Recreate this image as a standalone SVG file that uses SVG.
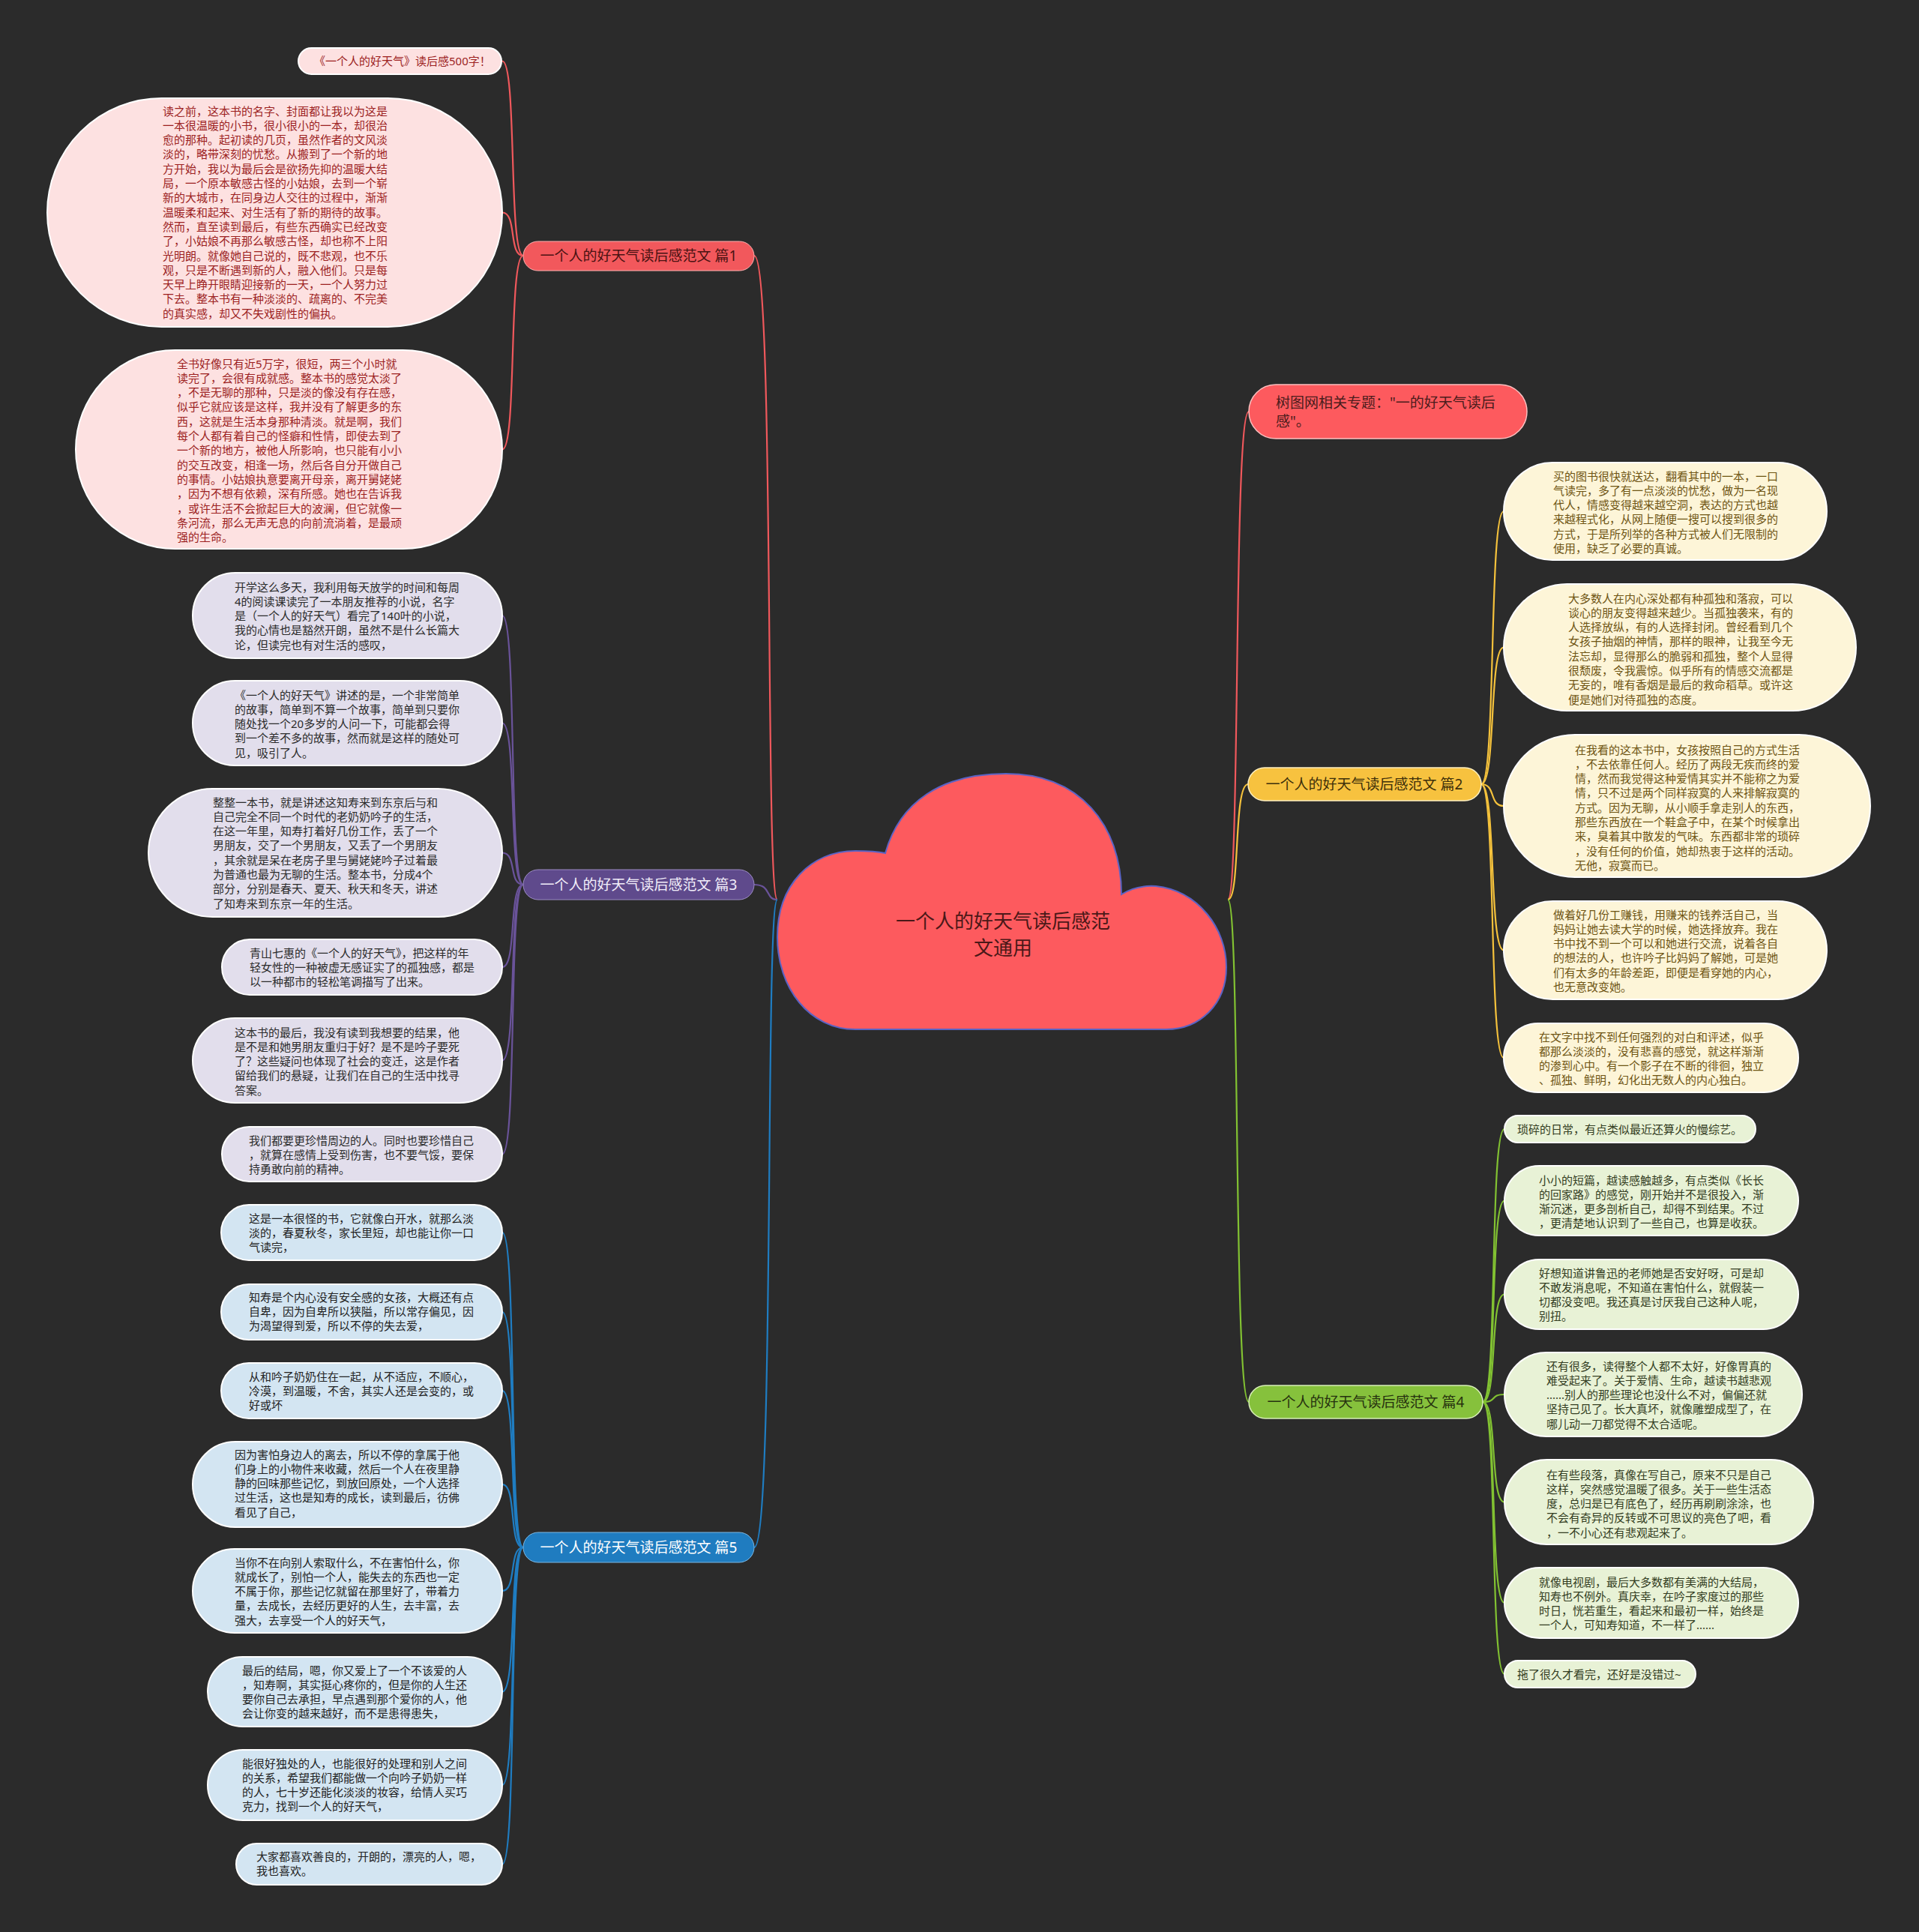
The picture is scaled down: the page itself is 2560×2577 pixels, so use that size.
<svg xmlns="http://www.w3.org/2000/svg" width="2560" height="2577" viewBox="0 0 2560 2577">
<style>
text{font-family:'Noto Sans','Noto Sans CJK SC',sans-serif}
.t{font-size:15px}
.b{font-size:19px}
.c1{stroke:#f0585c}.c3{stroke:#6a539a}.c5{stroke:#1f7dc2}.c2{stroke:#f5c23c}.c4{stroke:#82c232}
.con path{fill:none;stroke-width:2.2}
.l1{fill:#fde1e1;stroke:#fff;stroke-width:2}
.l3{fill:#e2deec;stroke:#fff;stroke-width:2}
.l5{fill:#d3e5f2;stroke:#fff;stroke-width:2}
.l2{fill:#fdf5d8;stroke:#fff;stroke-width:2}
.l4{fill:#e8f2d6;stroke:#fff;stroke-width:2}
.x1{fill:#9c1f1f}.x3{fill:#2b2b2b}.x5{fill:#222}.x2{fill:#6e5412}.x4{fill:#333d22}
</style>
<rect width="2560" height="2577" fill="#2b2b2b"/>
<g id="connectors" class="con">
<path class="c1" d="M1037,1200 C1020,1200 1034,341 1006,341"/>
<path class="c3" d="M1037,1200 C1020,1200 1030,1180 1006,1180"/>
<path class="c5" d="M1037,1200 C1020,1200 1034,2064 1006,2064"/>
<path class="c1" d="M1638,1200 C1655,1200 1645,549 1666,549"/>
<path class="c2" d="M1638,1200 C1655,1200 1645,1046 1665,1046"/>
<path class="c4" d="M1638,1200 C1655,1200 1645,1870 1666,1870"/>
<path class="c1" d="M698,341 C678,341 690,81.5 670,81.5"/>
<path class="c1" d="M698,341 C678,341 690,283.5 670,283.5"/>
<path class="c1" d="M698,341 C678,341 690,599.5 670,599.5"/>
<path class="c3" d="M698,1180 C678,1180 690,821 670,821"/>
<path class="c3" d="M698,1180 C678,1180 690,964.5 670,964.5"/>
<path class="c3" d="M698,1180 C678,1180 690,1137.5 670,1137.5"/>
<path class="c3" d="M698,1180 C678,1180 690,1290 670,1290"/>
<path class="c3" d="M698,1180 C678,1180 690,1414.5 670,1414.5"/>
<path class="c3" d="M698,1180 C678,1180 690,1539.5 670,1539.5"/>
<path class="c5" d="M698,2064 C678,2064 690,1644 670,1644"/>
<path class="c5" d="M698,2064 C678,2064 690,1750 670,1750"/>
<path class="c5" d="M698,2064 C678,2064 690,1855 670,1855"/>
<path class="c5" d="M698,2064 C678,2064 690,1980 670,1980"/>
<path class="c5" d="M698,2064 C678,2064 690,2122 670,2122"/>
<path class="c5" d="M698,2064 C678,2064 690,2256.5 670,2256.5"/>
<path class="c5" d="M698,2064 C678,2064 690,2381 670,2381"/>
<path class="c5" d="M698,2064 C678,2064 690,2486.5 670,2486.5"/>
<path class="c2" d="M1976,1046 C1996,1046 1986,682 2006,682"/>
<path class="c2" d="M1976,1046 C1996,1046 1986,863.5 2006,863.5"/>
<path class="c2" d="M1976,1046 C1996,1046 1986,1075 2006,1075"/>
<path class="c2" d="M1976,1046 C1996,1046 1986,1267.5 2006,1267.5"/>
<path class="c2" d="M1976,1046 C1996,1046 1986,1411 2006,1411"/>
<path class="c4" d="M1978,1870 C1998,1870 1987,1506 2007,1506"/>
<path class="c4" d="M1978,1870 C1998,1870 1987,1601.5 2007,1601.5"/>
<path class="c4" d="M1978,1870 C1998,1870 1987,1726.5 2007,1726.5"/>
<path class="c4" d="M1978,1870 C1998,1870 1987,1860 2007,1860"/>
<path class="c4" d="M1978,1870 C1998,1870 1987,2003.5 2007,2003.5"/>
<path class="c4" d="M1978,1870 C1998,1870 1987,2138 2007,2138"/>
<path class="c4" d="M1978,1870 C1998,1870 1987,2233 2007,2233"/>
</g>
<g id="center">
<path d="M1141,1373 C1080,1373 1037,1318 1037,1250 C1037,1180 1082,1135 1141,1135 C1160,1135 1172,1136 1181,1138 C1200,1070 1255,1032 1342,1032 C1440,1032 1496,1100 1496,1193 C1510,1184 1526,1181 1542,1182 C1598,1188 1636,1238 1636,1290 C1636,1340 1600,1373 1556,1373 Z" fill="#fd5a5e" stroke="#5a63c4" stroke-width="2"/>
<text x="1338" y="1238" font-size="26" fill="#4a1818" text-anchor="middle">一个人的好天气读后感范</text>
<text x="1338" y="1274" font-size="26" fill="#4a1818" text-anchor="middle">文通用</text>
</g>
<g id="b1"><rect x="698" y="322" width="308" height="39" rx="19.5" fill="#f2585c" stroke="#ffb0b0" stroke-width="1"/><text class="b" x="852" y="348" text-anchor="middle" fill="#4a1212">一个人的好天气读后感范文 篇1</text></g>
<g id="b3"><rect x="698" y="1160" width="308" height="40" rx="20" fill="#5f4a8c" stroke="#9c8cc4" stroke-width="1"/><text class="b" x="852" y="1186.5" text-anchor="middle" fill="#f2eefa">一个人的好天气读后感范文 篇3</text></g>
<g id="b5"><rect x="698" y="2044" width="308" height="40" rx="20" fill="#1f7cc0" stroke="#7cb8e4" stroke-width="1"/><text class="b" x="852" y="2070.5" text-anchor="middle" fill="#ffffff">一个人的好天气读后感范文 篇5</text></g>
<g id="bs"><rect x="1666" y="513" width="371" height="72" rx="36" fill="#fd5a5e" stroke="#ffc0c0" stroke-width="1.5"/><text x="1702" y="544" font-size="19" fill="#4a1c1c">树图网相关专题："一的好天气读后</text><text x="1702" y="569" font-size="19" fill="#4a1c1c">感"。</text></g>
<g id="b2"><rect x="1665" y="1024" width="311" height="44" rx="22" fill="#f7c23f" stroke="#fff0c0" stroke-width="1.5"/><text class="b" x="1820" y="1052.5" text-anchor="middle" fill="#3d2f0a">一个人的好天气读后感范文 篇2</text></g>
<g id="b4"><rect x="1666" y="1848" width="312" height="44" rx="22" fill="#86c13c" stroke="#d8f0b8" stroke-width="1.5"/><text class="b" x="1822" y="1876.5" text-anchor="middle" fill="#26320f">一个人的好天气读后感范文 篇4</text></g>

<g id="n1a"><rect class="l1" x="398" y="64" width="271" height="35" rx="17.5"/><text class="t x1" x="419" y="87">《一个人的好天气》读后感500字！</text></g>
<g id="n1b"><rect class="l1" x="63" y="131" width="607" height="305" rx="152.5"/><text class="t x1"><tspan x="217" y="153.5">读之前，这本书的名字、封面都让我以为这是</tspan><tspan x="217" y="172.8">一本很温暖的小书，很小很小的一本，却很治</tspan><tspan x="217" y="192.1">愈的那种。起初读的几页，虽然作者的文风淡</tspan><tspan x="217" y="211.4">淡的，略带深刻的忧愁。从搬到了一个新的地</tspan><tspan x="217" y="230.7">方开始，我以为最后会是欲扬先抑的温暖大结</tspan><tspan x="217" y="250">局，一个原本敏感古怪的小姑娘，去到一个崭</tspan><tspan x="217" y="269.3">新的大城市，在同身边人交往的过程中，渐渐</tspan><tspan x="217" y="288.6">温暖柔和起来、对生活有了新的期待的故事。</tspan><tspan x="217" y="307.9">然而，直至读到最后，有些东西确实已经改变</tspan><tspan x="217" y="327.2">了，小姑娘不再那么敏感古怪，却也称不上阳</tspan><tspan x="217" y="346.5">光明朗。就像她自己说的，既不悲观，也不乐</tspan><tspan x="217" y="365.8">观，只是不断遇到新的人，融入他们。只是每</tspan><tspan x="217" y="385.1">天早上睁开眼睛迎接新的一天，一个人努力过</tspan><tspan x="217" y="404.4">下去。整本书有一种淡淡的、疏离的、不完美</tspan><tspan x="217" y="423.7">的真实感，却又不失戏剧性的偏执。</tspan></text></g>
<g id="n1c"><rect class="l1" x="101" y="467" width="569" height="265" rx="132.5"/><text class="t x1"><tspan x="236" y="490.5">全书好像只有近5万字，很短，两三个小时就</tspan><tspan x="236" y="509.8">读完了，会很有成就感。整本书的感觉太淡了</tspan><tspan x="236" y="529.1">，不是无聊的那种，只是淡的像没有存在感，</tspan><tspan x="236" y="548.4">似乎它就应该是这样，我并没有了解更多的东</tspan><tspan x="236" y="567.7">西，这就是生活本身那种清淡。就是啊，我们</tspan><tspan x="236" y="587">每个人都有着自己的怪癖和性情，即使去到了</tspan><tspan x="236" y="606.3">一个新的地方，被他人所影响，也只能有小小</tspan><tspan x="236" y="625.6">的交互改变，相逢一场，然后各自分开做自己</tspan><tspan x="236" y="644.9">的事情。小姑娘执意要离开母亲，离开舅姥姥</tspan><tspan x="236" y="664.2">，因为不想有依赖，深有所感。她也在告诉我</tspan><tspan x="236" y="683.5">，或许生活不会掀起巨大的波澜，但它就像一</tspan><tspan x="236" y="702.8">条河流，那么无声无息的向前流淌着，是最顽</tspan><tspan x="236" y="722.1">强的生命。</tspan></text></g>

<g id="n3a"><rect class="l3" x="257" y="764" width="413" height="114" rx="57"/><text class="t x3"><tspan x="313" y="788.5">开学这么多天，我利用每天放学的时间和每周</tspan><tspan x="313" y="807.8">4的阅读课读完了一本朋友推荐的小说，名字</tspan><tspan x="313" y="827.1">是（一个人的好天气）看完了140叶的小说，</tspan><tspan x="313" y="846.4">我的心情也是豁然开朗，虽然不是什么长篇大</tspan><tspan x="313" y="865.7">论，但读完也有对生活的感叹，</tspan></text></g>
<g id="n3b"><rect class="l3" x="257" y="908" width="413" height="113" rx="56.5"/><text class="t x3"><tspan x="313" y="932.5">《一个人的好天气》讲述的是，一个非常简单</tspan><tspan x="313" y="951.8">的故事，简单到不算一个故事，简单到只要你</tspan><tspan x="313" y="971.1">随处找一个20多岁的人问一下，可能都会得</tspan><tspan x="313" y="990.4">到一个差不多的故事，然而就是这样的随处可</tspan><tspan x="313" y="1009.7">见，吸引了人。</tspan></text></g>
<g id="n3c"><rect class="l3" x="198" y="1052" width="472" height="171" rx="85.5"/><text class="t x3"><tspan x="284" y="1075.5">整整一本书，就是讲述这知寿来到东京后与和</tspan><tspan x="284" y="1094.8">自己完全不同一个时代的老奶奶吟子的生活，</tspan><tspan x="284" y="1114.1">在这一年里，知寿打着好几份工作，丢了一个</tspan><tspan x="284" y="1133.4">男朋友，交了一个男朋友，又丢了一个男朋友</tspan><tspan x="284" y="1152.7">，其余就是呆在老房子里与舅姥姥吟子过着最</tspan><tspan x="284" y="1172">为普通也最为无聊的生活。整本书，分成4个</tspan><tspan x="284" y="1191.3">部分，分别是春天、夏天、秋天和冬天，讲述</tspan><tspan x="284" y="1210.6">了知寿来到东京一年的生活。</tspan></text></g>
<g id="n3d"><rect class="l3" x="296" y="1253" width="374" height="74" rx="37"/><text class="t x3"><tspan x="333" y="1276.5">青山七惠的《一个人的好天气》，把这样的年</tspan><tspan x="333" y="1295.8">轻女性的一种被虚无感证实了的孤独感，都是</tspan><tspan x="333" y="1315.1">以一种都市的轻松笔调描写了出来。</tspan></text></g>
<g id="n3e"><rect class="l3" x="257" y="1358" width="413" height="113" rx="56.5"/><text class="t x3"><tspan x="313" y="1382.5">这本书的最后，我没有读到我想要的结果，他</tspan><tspan x="313" y="1401.8">是不是和她男朋友重归于好？是不是吟子要死</tspan><tspan x="313" y="1421.1">了？这些疑问也体现了社会的变迁，这是作者</tspan><tspan x="313" y="1440.4">留给我们的悬疑，让我们在自己的生活中找寻</tspan><tspan x="313" y="1459.7">答案。</tspan></text></g>
<g id="n3f"><rect class="l3" x="296" y="1503" width="374" height="73" rx="36.5"/><text class="t x3"><tspan x="332" y="1526.5">我们都要更珍惜周边的人。同时也要珍惜自己</tspan><tspan x="332" y="1545.8">，就算在感情上受到伤害，也不要气馁，要保</tspan><tspan x="332" y="1565.1">持勇敢向前的精神。</tspan></text></g>

<g id="n5a"><rect class="l5" x="295" y="1607" width="375" height="74" rx="37"/><text class="t x5"><tspan x="332" y="1630.5">这是一本很怪的书，它就像白开水，就那么淡</tspan><tspan x="332" y="1649.8">淡的，春夏秋冬，家长里短，却也能让你一口</tspan><tspan x="332" y="1669.1">气读完，</tspan></text></g>
<g id="n5b"><rect class="l5" x="295" y="1713" width="375" height="74" rx="37"/><text class="t x5"><tspan x="332" y="1735.5">知寿是个内心没有安全感的女孩，大概还有点</tspan><tspan x="332" y="1754.8">自卑，因为自卑所以狭隘，所以常存偏见，因</tspan><tspan x="332" y="1774.1">为渴望得到爱，所以不停的失去爱，</tspan></text></g>
<g id="n5c"><rect class="l5" x="295" y="1818" width="375" height="74" rx="37"/><text class="t x5"><tspan x="332" y="1841.5">从和吟子奶奶住在一起，从不适应，不顺心，</tspan><tspan x="332" y="1860.8">冷漠，到温暖，不舍，其实人还是会变的，或</tspan><tspan x="332" y="1880.1">好或坏</tspan></text></g>
<g id="n5d"><rect class="l5" x="257" y="1923" width="413" height="114" rx="57"/><text class="t x5"><tspan x="313" y="1945.5">因为害怕身边人的离去，所以不停的拿属于他</tspan><tspan x="313" y="1964.8">们身上的小物件来收藏，然后一个人在夜里静</tspan><tspan x="313" y="1984.1">静的回味那些记忆，到放回原处，一个人选择</tspan><tspan x="313" y="2003.4">过生活，这也是知寿的成长，读到最后，彷佛</tspan><tspan x="313" y="2022.7">看见了自己，</tspan></text></g>
<g id="n5e"><rect class="l5" x="257" y="2066" width="413" height="112" rx="56"/><text class="t x5"><tspan x="313" y="2089.5">当你不在向别人索取什么，不在害怕什么，你</tspan><tspan x="313" y="2108.8">就成长了，别怕一个人，能失去的东西也一定</tspan><tspan x="313" y="2128.1">不属于你，那些记忆就留在那里好了，带着力</tspan><tspan x="313" y="2147.4">量，去成长，去经历更好的人生，去丰富，去</tspan><tspan x="313" y="2166.7">强大，去享受一个人的好天气，</tspan></text></g>
<g id="n5f"><rect class="l5" x="277" y="2210" width="393" height="93" rx="46.5"/><text class="t x5"><tspan x="323" y="2233.5">最后的结局，嗯，你又爱上了一个不该爱的人</tspan><tspan x="323" y="2252.8">，知寿啊，其实挺心疼你的，但是你的人生还</tspan><tspan x="323" y="2272.1">要你自己去承担，早点遇到那个爱你的人，他</tspan><tspan x="323" y="2291.4">会让你变的越来越好，而不是患得患失，</tspan></text></g>
<g id="n5g"><rect class="l5" x="277" y="2334" width="393" height="94" rx="47"/><text class="t x5"><tspan x="323" y="2357.5">能很好独处的人，也能很好的处理和别人之间</tspan><tspan x="323" y="2376.8">的关系，希望我们都能做一个向吟子奶奶一样</tspan><tspan x="323" y="2396.1">的人，七十岁还能化淡淡的妆容，给情人买巧</tspan><tspan x="323" y="2415.4">克力，找到一个人的好天气，</tspan></text></g>
<g id="n5h"><rect class="l5" x="315" y="2459" width="355" height="55" rx="27.5"/><text class="t x5"><tspan x="342" y="2481.5">大家都喜欢善良的，开朗的，漂亮的人，嗯，</tspan><tspan x="342" y="2500.8">我也喜欢。</tspan></text></g>

<g id="n2a"><rect class="l2" x="2006" y="617" width="431" height="130" rx="65"/><text class="t x2"><tspan x="2072" y="640.5">买的图书很快就送达，翻看其中的一本，一口</tspan><tspan x="2072" y="659.8">气读完，多了有一点淡淡的忧愁，做为一名现</tspan><tspan x="2072" y="679.1">代人，情感变得越来越空洞，表达的方式也越</tspan><tspan x="2072" y="698.4">来越程式化，从网上随便一搜可以搜到很多的</tspan><tspan x="2072" y="717.7">方式，于是所列举的各种方式被人们无限制的</tspan><tspan x="2072" y="737">使用，缺乏了必要的真诚。</tspan></text></g>
<g id="n2b"><rect class="l2" x="2006" y="779" width="470" height="169" rx="84.5"/><text class="t x2"><tspan x="2092" y="803.5">大多数人在内心深处都有种孤独和落寂，可以</tspan><tspan x="2092" y="822.8">谈心的朋友变得越来越少。当孤独袭来，有的</tspan><tspan x="2092" y="842.1">人选择放纵，有的人选择封闭。曾经看到几个</tspan><tspan x="2092" y="861.4">女孩子抽烟的神情，那样的眼神，让我至今无</tspan><tspan x="2092" y="880.7">法忘却，显得那么的脆弱和孤独，整个人显得</tspan><tspan x="2092" y="900">很颓废，令我震惊。似乎所有的情感交流都是</tspan><tspan x="2092" y="919.3">无妄的，唯有香烟是最后的救命稻草。或许这</tspan><tspan x="2092" y="938.6">便是她们对待孤独的态度。</tspan></text></g>
<g id="n2c"><rect class="l2" x="2006" y="980" width="489" height="190" rx="95"/><text class="t x2"><tspan x="2101" y="1005.5">在我看的这本书中，女孩按照自己的方式生活</tspan><tspan x="2101" y="1024.8">，不去依靠任何人。经历了两段无疾而终的爱</tspan><tspan x="2101" y="1044.1">情，然而我觉得这种爱情其实并不能称之为爱</tspan><tspan x="2101" y="1063.4">情，只不过是两个同样寂寞的人来排解寂寞的</tspan><tspan x="2101" y="1082.7">方式。因为无聊，从小顺手拿走别人的东西，</tspan><tspan x="2101" y="1102">那些东西放在一个鞋盒子中，在某个时候拿出</tspan><tspan x="2101" y="1121.3">来，臭着其中散发的气味。东西都非常的琐碎</tspan><tspan x="2101" y="1140.6">，没有任何的价值，她却热衷于这样的活动。</tspan><tspan x="2101" y="1159.9">无他，寂寞而已。</tspan></text></g>
<g id="n2d"><rect class="l2" x="2006" y="1202" width="431" height="131" rx="65.5"/><text class="t x2"><tspan x="2072" y="1225.5">做着好几份工赚钱，用赚来的钱养活自己，当</tspan><tspan x="2072" y="1244.8">妈妈让她去读大学的时候，她选择放弃。我在</tspan><tspan x="2072" y="1264.1">书中找不到一个可以和她进行交流，说着各自</tspan><tspan x="2072" y="1283.4">的想法的人，也许吟子比妈妈了解她，可是她</tspan><tspan x="2072" y="1302.7">们有太多的年龄差距，即便是看穿她的内心，</tspan><tspan x="2072" y="1322">也无意改变她。</tspan></text></g>
<g id="n2e"><rect class="l2" x="2006" y="1365" width="393" height="92" rx="46"/><text class="t x2"><tspan x="2053" y="1388.5">在文字中找不到任何强烈的对白和评述，似乎</tspan><tspan x="2053" y="1407.8">都那么淡淡的，没有悲喜的感觉，就这样渐渐</tspan><tspan x="2053" y="1427.1">的渗到心中。有一个影子在不断的徘徊，独立</tspan><tspan x="2053" y="1446.4">、孤独、鲜明，幻化出无数人的内心独白。</tspan></text></g>

<g id="n4a"><rect class="l4" x="2007" y="1488" width="335" height="36" rx="18"/><text class="t x4" x="2024" y="1511.5">琐碎的日常，有点类似最近还算火的慢综艺。</text></g>
<g id="n4b"><rect class="l4" x="2007" y="1555" width="392" height="93" rx="46.5"/><text class="t x4"><tspan x="2053" y="1579.5">小小的短篇，越读感触越多，有点类似《长长</tspan><tspan x="2053" y="1598.8">的回家路》的感觉，刚开始并不是很投入，渐</tspan><tspan x="2053" y="1618.1">渐沉迷，更多剖析自己，却得不到结果。不过</tspan><tspan x="2053" y="1637.4">，更清楚地认识到了一些自己，也算是收获。</tspan></text></g>
<g id="n4c"><rect class="l4" x="2007" y="1680" width="392" height="93" rx="46.5"/><text class="t x4"><tspan x="2053" y="1703.5">好想知道讲鲁迅的老师她是否安好呀，可是却</tspan><tspan x="2053" y="1722.8">不敢发消息呢，不知道在害怕什么，就假装一</tspan><tspan x="2053" y="1742.1">切都没变吧。我还真是讨厌我自己这种人呢，</tspan><tspan x="2053" y="1761.4">别扭。</tspan></text></g>
<g id="n4d"><rect class="l4" x="2007" y="1804" width="397" height="112" rx="56"/><text class="t x4"><tspan x="2063" y="1827.5">还有很多，读得整个人都不太好，好像胃真的</tspan><tspan x="2063" y="1846.8">难受起来了。关于爱情、生命，越读书越悲观</tspan><tspan x="2063" y="1866.1">......别人的那些理论也没什么不对，偏偏还就</tspan><tspan x="2063" y="1885.4">坚持己见了。长大真坏，就像雕塑成型了，在</tspan><tspan x="2063" y="1904.7">哪儿动一刀都觉得不太合适呢。</tspan></text></g>
<g id="n4e"><rect class="l4" x="2007" y="1947" width="412" height="113" rx="56.5"/><text class="t x4"><tspan x="2063" y="1972.5">在有些段落，真像在写自己，原来不只是自己</tspan><tspan x="2063" y="1991.8">这样，突然感觉温暖了很多。关于一些生活态</tspan><tspan x="2063" y="2011.1">度，总归是已有底色了，经历再刷刷涂涂，也</tspan><tspan x="2063" y="2030.4">不会有奇异的反转或不可思议的亮色了吧，看</tspan><tspan x="2063" y="2049.7">，一不小心还有悲观起来了。</tspan></text></g>
<g id="n4f"><rect class="l4" x="2007" y="2091" width="392" height="94" rx="47"/><text class="t x4"><tspan x="2053" y="2115.5">就像电视剧，最后大多数都有美满的大结局，</tspan><tspan x="2053" y="2134.8">知寿也不例外。真庆幸，在吟子家度过的那些</tspan><tspan x="2053" y="2154.1">时日，恍若重生，看起来和最初一样，始终是</tspan><tspan x="2053" y="2173.4">一个人，可知寿知道，不一样了......</tspan></text></g>
<g id="n4g"><rect class="l4" x="2007" y="2215" width="255" height="36" rx="18"/><text class="t x4" x="2024" y="2238.5">拖了很久才看完，还好是没错过~</text></g>
</svg>
